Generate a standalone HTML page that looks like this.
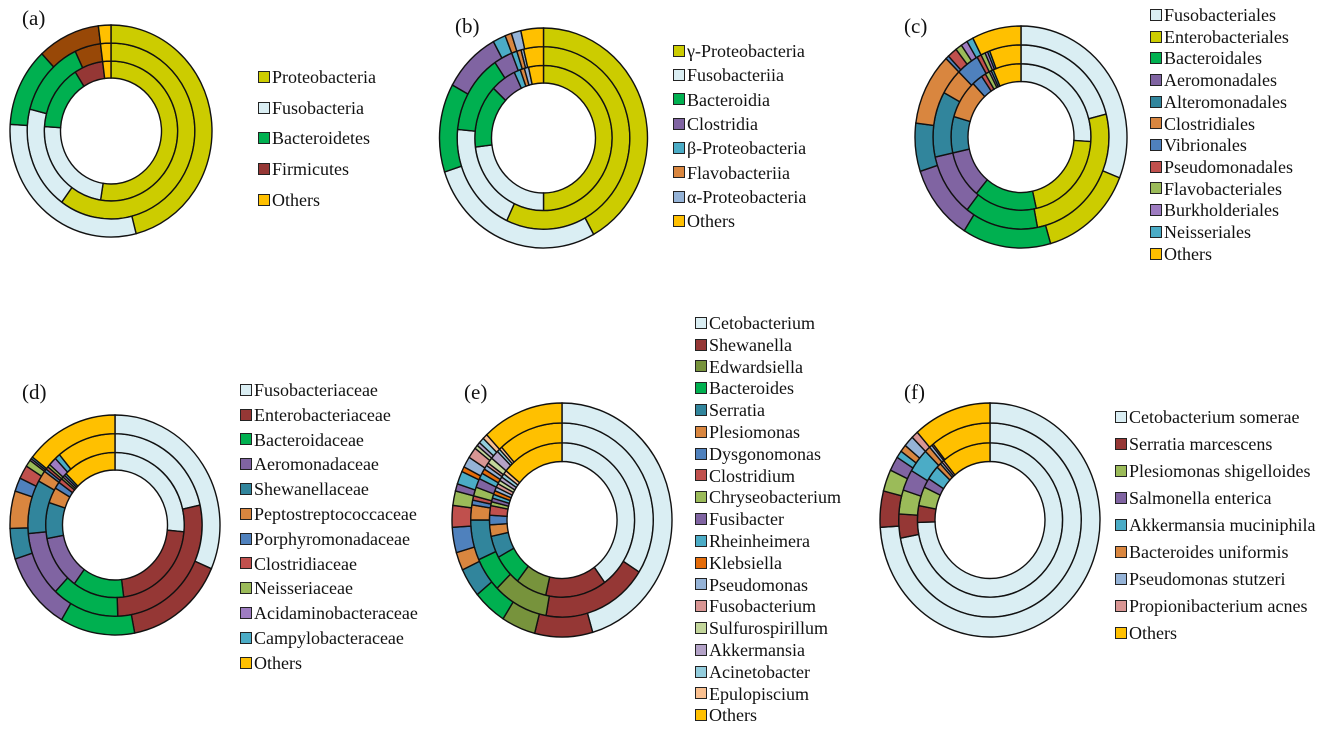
<!DOCTYPE html>
<html><head><meta charset="utf-8">
<style>
body{margin:0;background:#fff;width:1325px;height:729px;overflow:hidden;position:relative;font-family:"Liberation Serif",serif;}
svg{position:absolute;left:0;top:0}
.lg{position:absolute;font-size:18px;color:#111;white-space:nowrap;line-height:20px;height:20px}
.sq{display:inline-block;width:10px;height:10px;border:1.5px solid #222;vertical-align:middle;margin-right:2px;position:relative;top:-2px}
.ttl{position:absolute;font-size:21px;color:#111}
</style></head><body>
<svg id="svg" width="1325" height="729"></svg>
<div class="ttl" style="left:22px;top:6px">(a)</div>
<div class="ttl" style="left:455px;top:14px">(b)</div>
<div class="ttl" style="left:904px;top:14px">(c)</div>
<div class="ttl" style="left:22px;top:380px">(d)</div>
<div class="ttl" style="left:464px;top:380px">(e)</div>
<div class="ttl" style="left:904px;top:380px">(f)</div>
<script>
const aLabels=["Proteobacteria","Fusobacteria","Bacteroidetes","Firmicutes","Others"];
const aInner=[52.5,23.5,15,7,2];
const aMiddle=[60,19,14,5,2];
const aOuter=[46,30,12,10,2];
const bLabels=["γ-Proteobacteria","Fusobacteriia","Bacteroidia","Clostridia","β-Proteobacteria","Flavobacteriia","α-Proteobacteria","Others"];
const bInner=[50,23,14,6,1.5,1,1,3.5];
const bMiddle=[57,19.5,14,3.5,1,0.8,0.5,3.7];
const bOuter=[42,28,13,9,2,1,1.5,3.5];
const cLabels=["Fusobacteriales","Enterobacteriales","Bacteroidales","Aeromonadales","Alteromonadales","Clostridiales","Vibrionales","Pseudomonadales","Flavobacteriales","Burkholderiales","Neisseriales","Others"];
const cInner=[26,20.5,14.5,10.5,8,8.5,2.5,1,1,0.5,0.5,6.5];
const cMiddle=[21,26,13.5,11,11.5,4.5,4.2,0.8,0.8,0.5,0.4,5.8];
const cOuter=[31,14.5,13.5,11,7,10.5,0.5,1.5,1,1,1,7.5];
const dLabels=["Fusobacteriaceae","Enterobacteriaceae","Bacteroidaceae","Aeromonadaceae","Shewanellaceae","Peptostreptococcaceae","Porphyromonadaceae","Clostridiaceae","Neisseriaceae","Acidaminobacteraceae","Campylobacteraceae","Others"];
const dInner=[26.5,21.5,12,12,8,3.5,1.5,1,0.5,0.5,0.5,12.5];
const dMiddle=[21.5,28,12.5,11.5,9.5,2,0.5,0.5,0.5,1.5,1,11];
const dOuter=[31.5,15.5,11.5,11.5,4.5,5.5,2,2,1,0.3,0.3,14.4];
const eLabels=["Cetobacterium","Shewanella","Edwardsiella","Bacteroides","Serratia","Plesiomonas","Dysgonomonas","Clostridium","Chryseobacterium","Fusibacter","Rheinheimera","Klebsiella","Pseudomonas","Fusobacterium","Sulfurospirillum","Akkermansia","Acinetobacter","Epulopiscium","Others"];
const eInner=[40,13.6,6.9,6.5,4.6,2.4,2,2,0.8,0.8,0.8,0.8,0.8,0.8,0.8,0.8,0.8,0.8,14];
const eMiddle=[34,18.8,9.8,5.7,6.7,2.5,0.8,0.7,1.5,1.5,1,0.8,0.7,0.5,1,1.5,0.5,0.5,11.5];
const eOuter=[45.5,8.5,5,5,4,2.5,3.5,3,2,1,1.8,0.7,1.5,1.5,0.5,0.5,0.8,0.7,12];
const fLabels=["Cetobacterium somerae","Serratia marcescens","Plesiomonas shigelloides","Salmonella enterica","Akkermansia muciniphila","Bacteroides uniformis","Pseudomonas stutzeri","Propionibacterium acnes","Others"];
const fInner=[74.5,3.5,4,2,3,1,0.5,0.5,11];
const fMiddle=[72,4,4,3.5,4,1,0.5,0.3,10.7];
const fOuter=[74,5,3,2,1,1,1.5,1,11.5];

const Y="#CCCC00",LB="#DAEEF3",G="#00B050",DR="#953735",O="#FFC000",PU="#8064A2",TE="#31859C",OR="#D9863F",BL="#4F81BD",RD="#C0504D",LG="#9BBB59",CY="#4BACC6";
const charts=[
 {id:"a",labels:aLabels,rings:[aInner,aMiddle,aOuter],colors:[Y,LB,G,DR,O],over:{"1-3":"#984807","2-3":"#984807"},cx:111,cy:131,rx:101,ry:106,lx:258,ly:77,ls:30.7},
 {id:"b",labels:bLabels,rings:[bInner,bMiddle,bOuter],colors:[Y,LB,G,PU,CY,OR,"#95B3D7",O],cx:543.5,cy:138,rx:104,ry:110,lx:673,ly:51,ls:24.3},
 {id:"c",labels:cLabels,rings:[cInner,cMiddle,cOuter],colors:[LB,Y,G,PU,TE,OR,BL,RD,LG,"#9E7CC1",CY,O],cx:1021,cy:137,rx:106,ry:111,lx:1150,ly:15,ls:21.7},
 {id:"d",labels:dLabels,rings:[dInner,dMiddle,dOuter],colors:[LB,DR,G,PU,TE,OR,BL,RD,LG,"#9E7CC1",CY,O],cx:115,cy:525,rx:105,ry:110,lx:240,ly:390,ls:24.8},
 {id:"e",labels:eLabels,rings:[eInner,eMiddle,eOuter],colors:[LB,DR,"#77933C",G,TE,OR,BL,RD,LG,PU,CY,"#E46C0A","#95B3D7","#D99694","#C3D69B","#B3A2C7","#93CDDD","#FAC090",O],cx:562,cy:520,rx:110,ry:117,lx:695,ly:323,ls:21.8},
 {id:"f",labels:fLabels,rings:[fInner,fMiddle,fOuter],colors:[LB,DR,LG,PU,CY,OR,"#95B3D7","#D99694",O],cx:990,cy:520,rx:110,ry:117,lx:1115,ly:417,ls:27}
];
const NS="http://www.w3.org/2000/svg";
const svg=document.getElementById("svg");
const radii=[50,66,83,100];
function pt(r,f){const t=f*2*Math.PI;return [r*Math.sin(t),-r*Math.cos(t)];}
function arc(r0,r1,f0,f1){
 const [x0,y0]=pt(r1,f0),[x1,y1]=pt(r1,f1),[x2,y2]=pt(r0,f1),[x3,y3]=pt(r0,f0);
 const lg=(f1-f0)>0.5?1:0;
 return `M${x0},${y0}A${r1},${r1} 0 ${lg} 1 ${x1},${y1}L${x2},${y2}A${r0},${r0} 0 ${lg} 0 ${x3},${y3}Z`;
}
const ringNames=["inner","middle","outer"];
charts.forEach(c=>{
 const g=document.createElementNS(NS,"g");
 
 
 g.setAttribute("transform",`translate(${c.cx},${c.cy}) scale(${c.rx/100},${c.ry/100})`);
 c.rings.forEach((vals,ri)=>{
  const tot=vals.reduce((s,v)=>s+v,0);let acc=0;
  vals.forEach((v,i)=>{
   const p=document.createElementNS(NS,"path");
   p.setAttribute("d",arc(radii[ri],radii[ri+1],acc/tot,(acc+v)/tot));
   acc+=v;
   const ov=c.over&&c.over[ri+"-"+i];
   p.setAttribute("fill",ov||c.colors[i]);
   p.setAttribute("stroke","#111");
   p.setAttribute("stroke-width","1.4");
   p.setAttribute("vector-effect","non-scaling-stroke");
   
   
   g.appendChild(p);
  });
 });
 svg.appendChild(g);
 c.labels.forEach((l,i)=>{
  const d=document.createElement("div");
  d.className="lg";
  
  
  d.style.left=c.lx+"px";
  d.style.top=(c.ly+i*c.ls-10)+"px";
  const s=document.createElement("span");
  s.className="sq";
  s.style.background=c.colors[i];
  
  
  d.appendChild(s);
  d.appendChild(document.createTextNode(l));
  document.body.appendChild(d);
 });
});
</script>
</body></html>
